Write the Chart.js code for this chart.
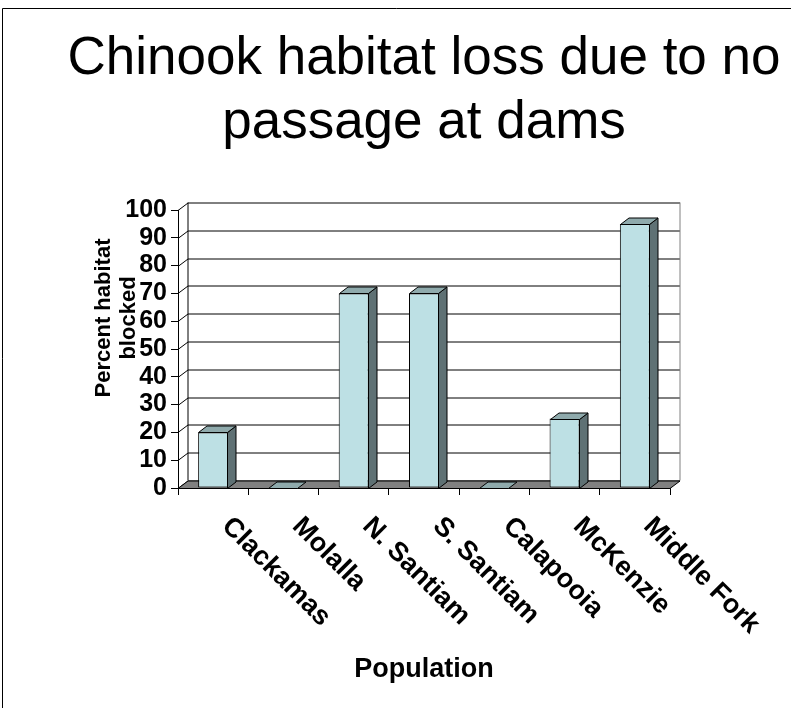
<!DOCTYPE html>
<html>
<head>
<meta charset="utf-8">
<title>Chinook habitat loss due to no passage at dams</title>
<script src="https://cdn.jsdelivr.net/npm/chart.js@4.4.1/dist/chart.umd.min.js"></script>
<style>
  html, body { margin: 0; padding: 0; background: #fff; }
  canvas { display: block; }
</style>
</head>
<body>
<canvas id="chart" width="791" height="708"></canvas>
<script>
// Populations and share of their habitat blocked by dams without passage
const categories = ['Clackamas', 'Molalla', 'N. Santiam', 'S. Santiam', 'Calapooia', 'McKenzie', 'Middle Fork'];
const percentBlocked = [20, 0, 70, 70, 0, 25, 95];

const titleLines = ['Chinook habitat loss due to no', 'passage at dams'];
const yTitleLines = ['Percent habitat', 'blocked'];
const xTitle = 'Population';

const FONT = '"Liberation Sans", Arial, Helvetica, sans-serif';

// depth of the back wall / floor and of the bars (pseudo 3-D)
const WALL = { dx: 10, dy: -7.5 };
const BAR = { dx: 8.5, dy: -6.5 };
const COLORS = {
  front: '#BDE0E4',
  top: '#8FAAAC',
  side: '#5F7174',
  floor: '#808080'
};

function poly(ctx, pts, fill) {
  ctx.beginPath();
  ctx.moveTo(pts[0][0], pts[0][1]);
  for (let i = 1; i < pts.length; i++) ctx.lineTo(pts[i][0], pts[i][1]);
  ctx.closePath();
  ctx.fillStyle = fill;
  ctx.fill();
  ctx.stroke();
}

const frame3d = {
  id: 'frame3d',
  beforeDraw(chart) {
    const ctx = chart.ctx;
    ctx.save();
    ctx.fillStyle = '#fff';
    ctx.fillRect(0, 0, chart.width, chart.height);
    ctx.strokeStyle = '#000';
    ctx.lineWidth = 1;
    ctx.beginPath();
    ctx.moveTo(2.5, chart.height);
    ctx.lineTo(2.5, 8.5);
    ctx.lineTo(chart.width, 8.5);
    ctx.stroke();
    ctx.restore();
  },
  beforeDatasetsDraw(chart) {
    const { ctx, chartArea: a, scales: { y } } = chart;
    const L = a.left, R = a.right, T = a.top, B = a.bottom;
    const dx = WALL.dx, dy = WALL.dy;
    ctx.save();
    ctx.lineWidth = 1;
    ctx.strokeStyle = '#000';
    // back-wall gridlines joined to the front axis by the side wall
    y.ticks.forEach(t => {
      const py = Math.round(y.getPixelForValue(t.value)) + 0.5;
      ctx.beginPath();
      ctx.moveTo(L, py);
      ctx.lineTo(L + dx, py + dy);
      ctx.lineTo(R + dx, py + dy);
      ctx.stroke();
    });
    ctx.beginPath();
    ctx.moveTo(L + dx, T + dy);
    ctx.lineTo(L + dx, B + dy);
    ctx.stroke();
    ctx.strokeStyle = '#808080';
    ctx.beginPath();
    ctx.moveTo(R + dx, T + dy);
    ctx.lineTo(R + dx, B + dy);
    ctx.stroke();
    // floor
    ctx.strokeStyle = '#000';
    const fb = Math.round(B) + 0.5;
    poly(ctx, [[L, fb], [R, fb], [R + dx, fb + dy], [L + dx, fb + dy]], COLORS.floor);
    ctx.restore();
  },
  afterDatasetsDraw(chart) {
    const ctx = chart.ctx;
    const meta = chart.getDatasetMeta(0);
    ctx.save();
    ctx.lineWidth = 1;
    ctx.strokeStyle = '#000';
    ctx.lineJoin = 'miter';
    meta.data.forEach(bar => {
      const p = bar.getProps(['x', 'y', 'base', 'width'], true);
      const x0 = Math.round(p.x - p.width / 2) + 0.5;
      const x1 = Math.round(p.x + p.width / 2) - 0.5;
      const top = Math.round(p.y) + 0.5;
      const base = Math.round(p.base) + 0.5;
      const dx = BAR.dx, dy = BAR.dy;
      if (base - top > 0.6) {
        poly(ctx, [[x1, top], [x1 + dx, top + dy], [x1 + dx, base + dy], [x1, base]], COLORS.side);
      }
      poly(ctx, [[x0, top], [x1, top], [x1 + dx, top + dy], [x0 + dx, top + dy]], COLORS.top);
    });
    ctx.restore();
  },
  afterDraw(chart) {
    const { ctx, chartArea: a, scales: { x } } = chart;
    ctx.save();
    ctx.fillStyle = '#000';
    // slanted category labels
    ctx.font = 'bold 27px ' + FONT;
    ctx.textAlign = 'left';
    ctx.textBaseline = 'middle';
    categories.forEach((name, i) => {
      const px = x.getPixelForValue(i);
      ctx.save();
      ctx.translate(px + 13, a.bottom + 34);
      ctx.rotate(Math.PI / 4);
      ctx.fillText(name, 0, 0);
      ctx.restore();
    });
    // value-axis title
    ctx.font = 'bold 22px ' + FONT;
    ctx.textAlign = 'center';
    ctx.translate(104, 318);
    ctx.rotate(-Math.PI / 2);
    yTitleLines.forEach((line, i) => ctx.fillText(line, 0, i * 25));
    ctx.restore();
  }
};

new Chart(document.getElementById('chart'), {
  type: 'bar',
  data: {
    labels: categories,
    datasets: [{
      data: percentBlocked,
      backgroundColor: COLORS.front,
      borderColor: '#000',
      borderWidth: 1,
      borderSkipped: false,
      barPercentage: 0.427,
      categoryPercentage: 1
    }]
  },
  options: {
    responsive: false,
    animation: false,
    devicePixelRatio: 1,
    layout: { padding: { left: 57, right: 0, top: 0, bottom: 0 } },
    plugins: {
      legend: { display: false },
      tooltip: { enabled: false },
      title: {
        display: true,
        text: titleLines,
        color: '#000',
        font: { family: FONT, size: 53, weight: 'normal', lineHeight: '64.5px' },
        padding: { top: 26.75, bottom: 54.25 }
      }
    },
    scales: {
      x: {
        grid: { display: true, drawOnChartArea: false, drawTicks: true, tickLength: 7, color: '#000', offset: true },
        border: { display: true, color: '#000' },
        ticks: { display: false },
        title: {
          display: true,
          text: xTitle,
          color: '#000',
          font: { family: FONT, size: 27, weight: 'bold' },
          padding: { top: 0, bottom: 22 }
        },
        afterFit(scale) { scale.height = 220; }
      },
      y: {
        min: 0,
        max: 100,
        ticks: {
          stepSize: 10,
          autoSkip: false,
          color: '#000',
          padding: 4,
          font: { family: FONT, size: 25, weight: 'bold' }
        },
        grid: { display: true, drawOnChartArea: false, tickLength: 7, color: '#000' },
        border: { display: true, color: '#000' },
        afterFit(scale) { scale.width = 121; }
      },
      // empty right-hand margin so the plot ends where the floor does
      margin: {
        type: 'linear',
        position: 'right',
        display: true,
        grid: { display: false },
        border: { display: false },
        ticks: { display: false },
        afterFit(scale) { scale.width = 121; }
      }
    }
  },
  plugins: [frame3d]
});
</script>
</body>
</html>
